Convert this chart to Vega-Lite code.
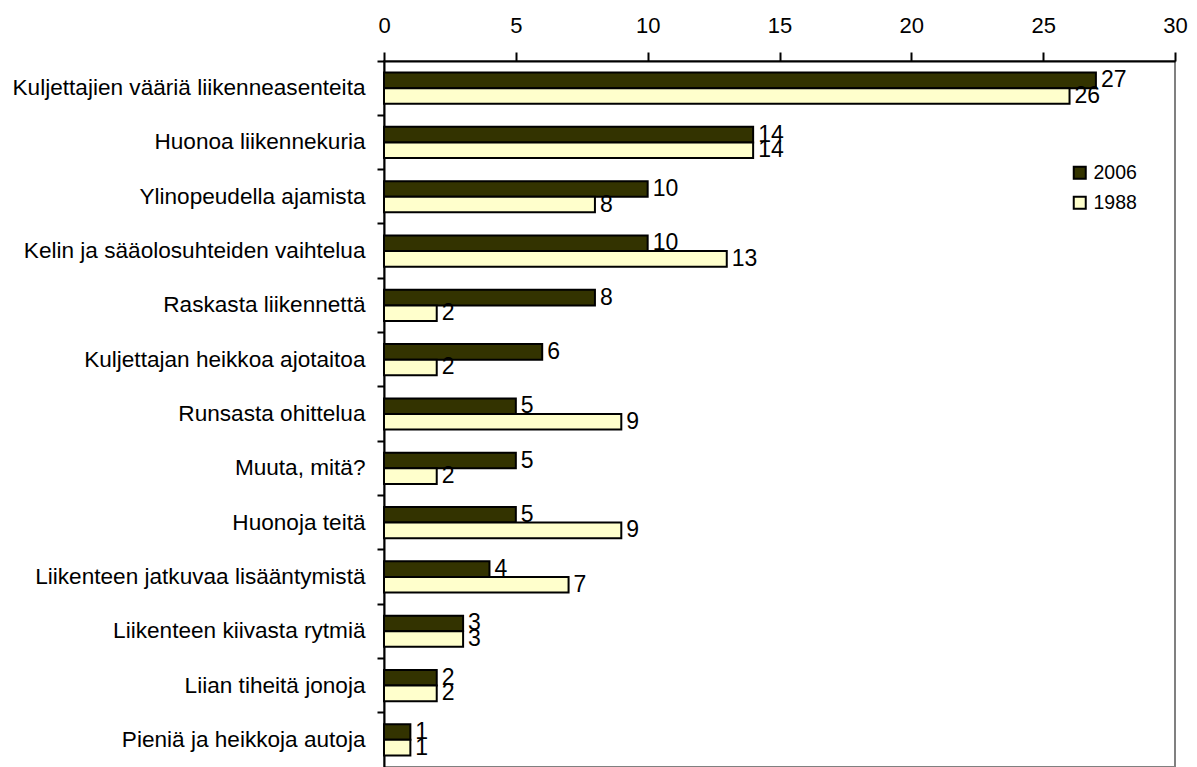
{
  "$schema": "https://vega.github.io/schema/vega-lite/v6.json",
  "width": 791,
  "height": 706,
  "autosize": {"type": "none"},
  "padding": {"left": 384, "top": 61, "right": 22, "bottom": 0},
  "background": "white",
  "config": {
    "font": "Liberation Sans",
    "view": {"stroke": "#808080", "strokeWidth": 2},
    "axis": {"grid": false, "domainColor": "black", "tickColor": "black", "labelColor": "black", "domainWidth": 2, "tickWidth": 2}
  },
  "data": {
    "values": [
      {"category": "Kuljettajien vääriä liikenneasenteita", "year": "2006", "value": 27},
      {"category": "Kuljettajien vääriä liikenneasenteita", "year": "1988", "value": 26},
      {"category": "Huonoa liikennekuria", "year": "2006", "value": 14},
      {"category": "Huonoa liikennekuria", "year": "1988", "value": 14},
      {"category": "Ylinopeudella ajamista", "year": "2006", "value": 10},
      {"category": "Ylinopeudella ajamista", "year": "1988", "value": 8},
      {"category": "Kelin ja sääolosuhteiden vaihtelua", "year": "2006", "value": 10},
      {"category": "Kelin ja sääolosuhteiden vaihtelua", "year": "1988", "value": 13},
      {"category": "Raskasta liikennettä", "year": "2006", "value": 8},
      {"category": "Raskasta liikennettä", "year": "1988", "value": 2},
      {"category": "Kuljettajan heikkoa ajotaitoa", "year": "2006", "value": 6},
      {"category": "Kuljettajan heikkoa ajotaitoa", "year": "1988", "value": 2},
      {"category": "Runsasta ohittelua", "year": "2006", "value": 5},
      {"category": "Runsasta ohittelua", "year": "1988", "value": 9},
      {"category": "Muuta, mitä?", "year": "2006", "value": 5},
      {"category": "Muuta, mitä?", "year": "1988", "value": 2},
      {"category": "Huonoja teitä", "year": "2006", "value": 5},
      {"category": "Huonoja teitä", "year": "1988", "value": 9},
      {"category": "Liikenteen jatkuvaa lisääntymistä", "year": "2006", "value": 4},
      {"category": "Liikenteen jatkuvaa lisääntymistä", "year": "1988", "value": 7},
      {"category": "Liikenteen kiivasta rytmiä", "year": "2006", "value": 3},
      {"category": "Liikenteen kiivasta rytmiä", "year": "1988", "value": 3},
      {"category": "Liian tiheitä jonoja", "year": "2006", "value": 2},
      {"category": "Liian tiheitä jonoja", "year": "1988", "value": 2},
      {"category": "Pieniä ja heikkoja autoja", "year": "2006", "value": 1},
      {"category": "Pieniä ja heikkoja autoja", "year": "1988", "value": 1}
    ]
  },
  "encoding": {
    "y": {
      "field": "category",
      "type": "nominal",
      "sort": null,
      "scale": {"paddingInner": 0, "paddingOuter": 0},
      "axis": {
        "title": null,
        "orient": "left",
        "tickSize": 7,
        "bandPosition": 0,
        "labelFontSize": 22.6,
        "labelPadding": 12,
        "labelLimit": 450
      }
    },
    "yOffset": {
      "field": "year",
      "type": "nominal",
      "scale": {"domain": ["2006", "1988"], "paddingInner": 0, "paddingOuter": 0.74}
    },
    "x": {
      "field": "value",
      "type": "quantitative",
      "scale": {"domain": [0, 30], "nice": false},
      "axis": {
        "title": null,
        "orient": "top",
        "values": [0, 5, 10, 15, 20, 25, 30],
        "tickSize": 9,
        "labelFontSize": 22,
        "labelPadding": 15,
        "labelFlush": false
      }
    }
  },
  "layer": [
    {
      "mark": {"type": "bar", "stroke": "black", "strokeWidth": 2},
      "encoding": {
        "color": {
          "field": "year",
          "type": "nominal",
          "scale": {"domain": ["2006", "1988"], "range": ["#333300", "#FFFFCC"]},
          "legend": {
            "title": null,
            "orient": "none",
            "legendX": 686,
            "legendY": 102,
            "padding": 0,
            "symbolType": "square",
            "symbolSize": 144,
            "symbolStrokeColor": "black",
            "symbolStrokeWidth": 2,
            "labelFontSize": 19.5,
            "labelColor": "black",
            "labelOffset": 4,
            "rowPadding": 9
          }
        }
      }
    },
    {
      "mark": {"type": "text", "align": "left", "baseline": "middle", "dx": 5, "fontSize": 23, "color": "black"},
      "encoding": {
        "text": {"field": "value", "type": "quantitative"}
      }
    }
  ]
}
